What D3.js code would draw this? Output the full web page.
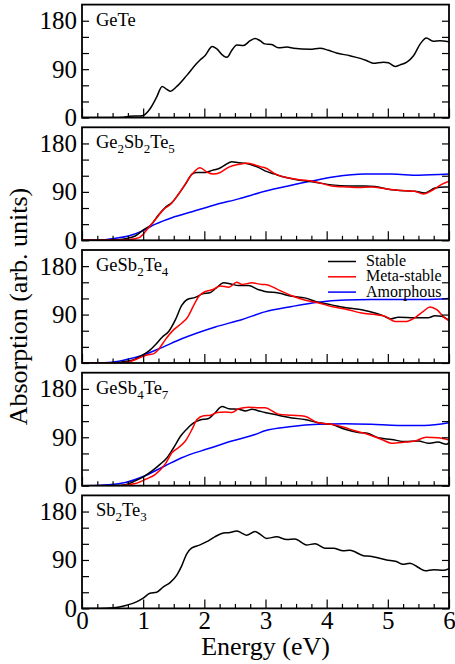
<!DOCTYPE html>
<html>
<head>
<meta charset="utf-8">
<script src="https://cdn.jsdelivr.net/npm/d3@7"></script>
<style>
  html, body { margin: 0; padding: 0; background: #fff; }
  svg { display: block; }
</style>
</head>
<body>
<svg id="chart" width="455" height="664"></svg>
<script>
// ---------------- data ----------------
const xTickLabels = [0, 1, 2, 3, 4, 5, 6];
const yTickLabels = [0, 90, 180];
const seriesNames = ["Stable", "Meta-stable", "Amorphous"];
const seriesColors = ["#000000", "#ff0000", "#0000ff"];

// GeTe (stable only)
const geteE = [0, 0.5, 0.68, 0.78, 0.95, 1.0, 1.11, 1.22, 1.31, 1.38, 1.44, 1.55, 1.71, 1.87, 1.93, 2.01, 2.13, 2.2, 2.31, 2.37, 2.45, 2.53, 2.64, 2.75, 2.83, 2.91, 2.99, 3.1, 3.21, 3.35, 3.46, 3.73, 3.89, 4.03, 4.16, 4.38, 4.55, 4.65, 4.76, 4.93, 5.01, 5.12, 5.2, 5.31, 5.42, 5.53, 5.63, 5.74, 5.85, 6.0];
const geteStable = [0, 0, 0.5, 2.5, 3, 4, 16, 38, 58, 53, 49, 58, 78, 100, 107, 115, 132, 128, 115, 112, 125, 135, 134, 143, 147, 143, 137, 136, 130, 131, 129, 127, 129, 125, 120, 115, 110, 106, 101, 103, 102, 95, 98, 103, 115, 137, 148, 142, 143, 141];

// Ge2Sb2Te5
const gst225StableE = [0, 0.55, 0.71, 0.87, 1.01, 1.14, 1.25, 1.36, 1.47, 1.58, 1.69, 1.8, 1.88, 2.02, 2.13, 2.23, 2.34, 2.45, 2.56, 2.67, 2.78, 2.89, 2.99, 3.15, 3.32, 3.53, 3.81, 4.08, 4.35, 4.62, 4.79, 5.01, 5.28, 5.44, 5.61, 5.77, 5.93, 6.0];
const gst225Stable = [0, 1, 3, 8, 20, 30, 47, 61, 70, 86, 104, 123, 126, 126, 130, 133, 140, 146, 144, 143, 140, 135, 129, 123, 117, 112, 108, 103, 101, 101, 100, 95, 92, 91, 88, 97, 99, 99];
const gst225MetaE = [0, 0.55, 0.71, 0.87, 0.95, 1.09, 1.23, 1.34, 1.44, 1.58, 1.69, 1.8, 1.93, 2.04, 2.15, 2.26, 2.4, 2.56, 2.7, 2.83, 2.94, 2.99, 3.15, 3.32, 3.53, 3.81, 4.08, 4.35, 4.52, 4.73, 5.01, 5.28, 5.44, 5.58, 5.71, 5.88, 6.0];
const gst225Meta = [0, 0.5, 1, 3, 6, 24, 43, 58, 66, 86, 105, 123, 135, 127, 123, 126, 136, 141, 143, 140, 136, 135, 124, 117, 113, 109, 101, 99, 98, 99, 95, 92, 91, 86, 92, 104, 110];
const gst225AmorE = [0, 0.33, 0.55, 0.76, 0.98, 1.2, 1.47, 1.8, 2.18, 2.56, 2.99, 3.37, 3.75, 4.13, 4.62, 5.06, 5.5, 6.0];
const gst225Amor = [0, 1, 4, 8, 17, 30, 42, 53, 66, 77, 91, 101, 110, 118, 123, 123, 121, 123];

// GeSb2Te4
const gst124StableE = [0, 0.5, 0.65, 0.82, 0.98, 1.09, 1.2, 1.31, 1.42, 1.53, 1.63, 1.72, 1.85, 1.96, 2.1, 2.18, 2.32, 2.43, 2.56, 2.72, 2.89, 2.99, 3.21, 3.43, 3.64, 3.86, 4.08, 4.35, 4.57, 4.79, 4.92, 5.05, 5.17, 5.44, 5.66, 5.77, 5.88, 6.0];
const gst124Stable = [0, 0, 2, 5, 14, 22, 34, 48, 59, 81, 107, 118, 122, 128, 131, 138, 149, 147, 144, 144, 136, 133, 130, 124, 121, 113, 108, 102, 99, 93, 88, 82, 85, 84, 84, 88, 87, 79];
const gst124MetaE = [0, 0.65, 0.76, 0.93, 1.06, 1.17, 1.25, 1.36, 1.5, 1.63, 1.72, 1.83, 1.91, 2.02, 2.13, 2.26, 2.4, 2.53, 2.62, 2.78, 2.94, 2.99, 3.21, 3.43, 3.64, 3.86, 4.08, 4.35, 4.57, 4.79, 4.95, 5.12, 5.28, 5.44, 5.58, 5.69, 5.8, 5.93, 6.0];
const gst124Meta = [0, 0, 2, 9, 15, 17, 25, 43, 62, 74, 84, 108, 124, 133, 136, 143, 141, 150, 146, 149, 146, 146, 136, 125, 117, 112, 105, 99, 93, 90, 87, 77, 77, 84, 96, 104, 99, 84, 79];
const gst124AmorE = [0, 0.44, 0.71, 0.98, 1.25, 1.63, 2.18, 2.62, 2.99, 3.43, 3.86, 4.3, 4.73, 5.17, 5.6, 6.0];
const gst124Amor = [0, 1, 6, 14, 26, 45, 67, 81, 95, 105, 113, 117, 118, 118, 118, 120];

// GeSb4Te7
const gst147StableE = [0, 0.55, 0.71, 0.87, 1.01, 1.14, 1.28, 1.39, 1.5, 1.61, 1.72, 1.83, 1.93, 2.07, 2.18, 2.29, 2.4, 2.56, 2.67, 2.78, 2.89, 2.99, 3.21, 3.43, 3.64, 3.86, 4.08, 4.3, 4.52, 4.68, 4.84, 5.06, 5.28, 5.5, 5.66, 5.82, 5.96, 6.0];
const gst147Stable = [0, 0.5, 2, 9, 17, 27, 40, 52, 71, 92, 106, 117, 122, 125, 136, 147, 143, 142, 139, 142, 139, 136, 131, 126, 123, 117, 114, 105, 99, 97, 89, 86, 82, 83, 79, 81, 77, 80];
const gst147MetaE = [0, 0.55, 0.71, 0.87, 1.04, 1.2, 1.36, 1.47, 1.58, 1.69, 1.8, 1.88, 1.99, 2.1, 2.21, 2.34, 2.45, 2.56, 2.72, 2.89, 2.99, 3.21, 3.43, 3.64, 3.86, 4.08, 4.3, 4.46, 4.68, 4.9, 5.06, 5.28, 5.44, 5.63, 5.82, 6.0];
const gst147Meta = [0, 0, 1, 4, 12, 21, 40, 61, 71, 83, 105, 123, 130, 131, 136, 137, 136, 143, 146, 145, 145, 133, 131, 129, 117, 114, 108, 102, 95, 86, 79, 81, 83, 90, 89, 85];
const gst147AmorE = [0, 0.44, 0.71, 1.04, 1.36, 1.63, 2.07, 2.45, 2.83, 2.99, 3.43, 3.86, 4.3, 4.73, 5.17, 5.6, 6.0];
const gst147Amor = [0, 2, 6, 19, 37, 52, 69, 83, 95, 102, 110, 114, 115, 114, 112, 112, 117];

// Sb2Te3 (stable only)
const sbteE = [0, 0.29, 0.51, 0.73, 0.89, 1.0, 1.11, 1.22, 1.33, 1.44, 1.55, 1.63, 1.71, 1.79, 1.93, 2.04, 2.17, 2.31, 2.42, 2.53, 2.61, 2.69, 2.83, 2.91, 3.02, 3.18, 3.35, 3.48, 3.67, 3.81, 3.97, 4.11, 4.27, 4.38, 4.6, 4.71, 4.98, 5.14, 5.25, 5.36, 5.5, 5.61, 5.75, 5.91, 6.0];
const sbteStable = [0, 0, 1, 6, 12, 19, 28, 30, 40, 48, 62, 79, 101, 112, 118, 124, 133, 140, 141, 144, 140, 136, 143, 138, 130, 133, 128, 129, 118, 120, 112, 112, 107, 108, 98, 97, 90, 87, 82, 84, 76, 70, 72, 71, 74];

// panel labels: [text, subscript] pairs
const panelLabels = [
  [["GeTe", null]],
  [["Ge", "2"], ["Sb", "2"], ["Te", "5"]],
  [["GeSb", "2"], ["Te", "4"]],
  [["GeSb", "4"], ["Te", "7"]],
  [["Sb", "2"], ["Te", "3"]]
];

const panels = [
  { label: panelLabels[0], series: [[geteE, geteStable, 0]] },
  { label: panelLabels[1], series: [[gst225AmorE, gst225Amor, 2], [gst225StableE, gst225Stable, 0], [gst225MetaE, gst225Meta, 1]] },
  { label: panelLabels[2], series: [[gst124AmorE, gst124Amor, 2], [gst124StableE, gst124Stable, 0], [gst124MetaE, gst124Meta, 1]], legend: true },
  { label: panelLabels[3], series: [[gst147AmorE, gst147Amor, 2], [gst147StableE, gst147Stable, 0], [gst147MetaE, gst147Meta, 1]] },
  { label: panelLabels[4], series: [[sbteE, sbteStable, 0]] }
];

// ---------------- layout ----------------
const FONT = '"Liberation Serif", "Times New Roman", Times, "DejaVu Serif", serif';
const svg = d3.select("#chart").attr("font-family", FONT);
const left = 82, plotW = 367, plotH = 113, top0 = 4.6, step = 122.7;

const x = d3.scaleLinear().domain([0, 6]).range([0, plotW]);
const y = d3.scaleLinear().domain([0, 210]).range([plotH, 0]);

const line = d3.line().x(d => x(d[0])).y(d => y(d[1])).curve(d3.curveMonotoneX);

svg.append("defs").append("clipPath").attr("id", "clip")
  .append("rect").attr("x", 0).attr("y", 0).attr("width", plotW).attr("height", plotH);

const yMinor = d3.range(0, 181, 30);
const xMinor = d3.range(0, 6.001, 0.25);

panels.forEach((p, i) => {
  const g = svg.append("g").attr("transform", `translate(${left},${top0 + i * step})`);

  // series
  const lg = g.append("g").attr("clip-path", "url(#clip)");
  p.series.forEach(([es, vs, ci]) => {
    lg.append("path")
      .datum(es.map((e, k) => [e, vs[k]]))
      .attr("d", line)
      .attr("fill", "none")
      .attr("stroke", seriesColors[ci])
      .attr("stroke-width", 1.5)
      .attr("stroke-linejoin", "round");
  });

  // left axis (inward ticks)
  const la = g.append("g").call(
    d3.axisLeft(y).tickValues(yMinor).tickSize(-7).tickPadding(5)
      .tickFormat(d => yTickLabels.includes(d) ? d : "")
  );
  // right axis
  const ra = g.append("g").attr("transform", `translate(${plotW},0)`).call(
    d3.axisRight(y).tickValues(yMinor).tickSize(-7).tickFormat("")
  );
  // bottom axis: minor + major
  const bm = g.append("g").attr("transform", `translate(0,${plotH})`).call(
    d3.axisBottom(x).tickValues(xMinor.filter(v => v % 1 !== 0)).tickSize(-4.5).tickFormat("")
  );
  const bM = g.append("g").attr("transform", `translate(0,${plotH})`).call(
    d3.axisBottom(x).tickValues(xTickLabels).tickSize(-9).tickPadding(3)
      .tickFormat(i === panels.length - 1 ? (d => d) : "")
  );
  [la, ra, bm, bM].forEach(a => {
    a.attr("font-family", FONT).attr("font-size", 25);
    a.select(".domain").remove();
    a.selectAll(".tick line").attr("stroke", "#000").attr("stroke-width", 1.2);
    a.selectAll(".tick text").filter(function () { return this.textContent === ""; }).remove();
    a.selectAll(".tick text").attr("fill", "#000");
  });

  // frame
  g.append("rect").attr("x", 0).attr("y", 0).attr("width", plotW).attr("height", plotH)
    .attr("fill", "none").attr("stroke", "#000").attr("stroke-width", 1.8);

  // panel label
  const t = g.append("text").attr("x", 14).attr("y", 21).attr("font-size", 18.5);
  let shifted = false;
  p.label.forEach(([main, sub]) => {
    const m = t.append("tspan").text(main);
    if (shifted) { m.attr("dy", -5); shifted = false; }
    if (sub) {
      t.append("tspan").text(sub).attr("font-size", 13).attr("dy", 5);
      shifted = true;
    }
  });

  // legend
  if (p.legend) {
    const leg = g.append("g");
    seriesNames.forEach((name, k) => {
      const by = 16 + k * 15.3;
      leg.append("line")
        .attr("x1", 328 - left).attr("x2", 356 - left)
        .attr("y1", by - 4.5).attr("y2", by - 4.5)
        .attr("stroke", seriesColors[k]).attr("stroke-width", 1.5);
      leg.append("text").attr("x", 366 - left).attr("y", by)
        .attr("font-size", 16).text(name);
    });
  }
});

// axis titles
const plotsMid = top0 + (4 * step + plotH) / 2;
svg.append("text")
  .attr("transform", `translate(27,${plotsMid}) rotate(-90)`)
  .attr("text-anchor", "middle")
  .attr("font-size", 26)
  .text("Absorption (arb. units)");

svg.append("text")
  .attr("x", left + plotW / 2).attr("y", 655)
  .attr("text-anchor", "middle")
  .attr("font-size", 26)
  .text("Energy (eV)");
</script>
</body>
</html>
